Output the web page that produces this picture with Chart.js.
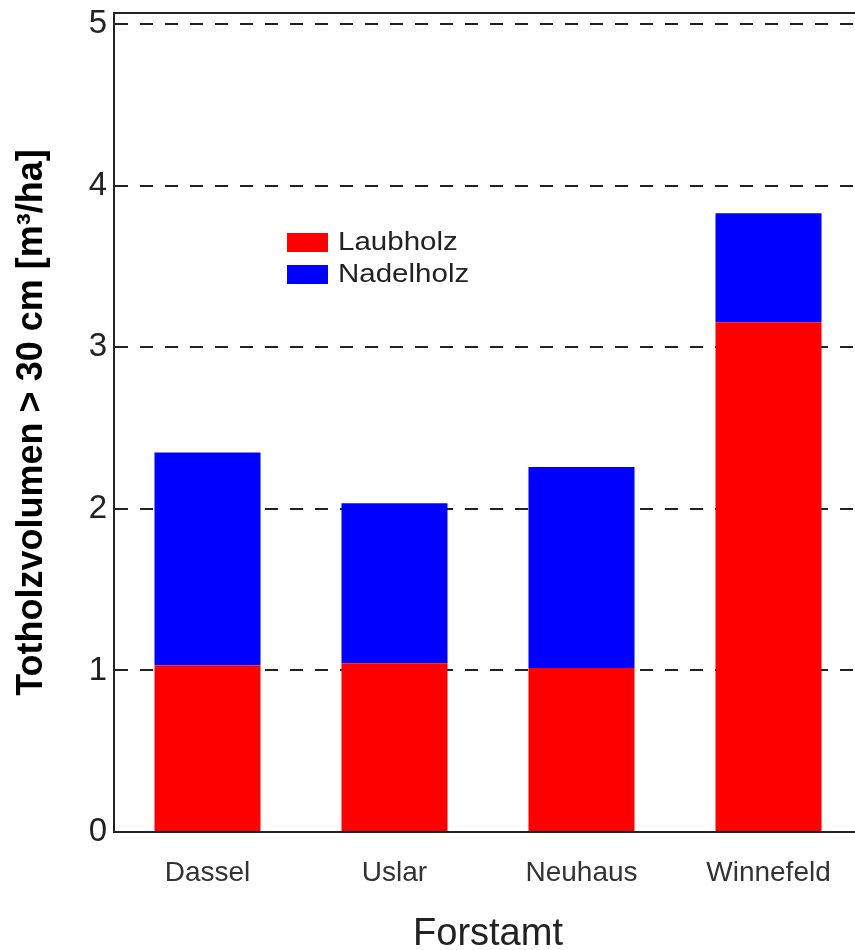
<!DOCTYPE html>
<html>
<head>
<meta charset="utf-8">
<script src="https://cdn.jsdelivr.net/npm/chart.js@4"></script>
<style>
  html, body { margin: 0; padding: 0; background: #fff; overflow: hidden; }
  #wrap { position: absolute; left: 0; top: 0; width: 870px; height: 950px; }
</style>
</head>
<body>
<div id="wrap"><canvas id="totholzChart"></canvas></div>
<script>
    'use strict';

    // Forstämter (x categories)
    const forstaemter = ['Dassel', 'Uslar', 'Neuhaus', 'Winnefeld'];
    // Totholzvolumen > 30 cm, m³/ha
    const laubholz = [1.03, 1.045, 1.015, 3.155];
    const nadelholz = [1.32, 0.99, 1.245, 0.675];
    const seriesNames = ['Laubholz', 'Nadelholz'];
    const yTicks = [0, 1, 2, 3, 4, 5];

    const ink = '#222';
    const fontFam = 'Arial, "Liberation Sans", sans-serif';

    // legend drawn inside the plot area, like the original figure
    const innerLegend = {
        id: 'innerLegend',
        afterDatasetsDraw(chart) {
            const { ctx, chartArea } = chart;
            const x0 = chartArea.left + 173;
            let y0 = chartArea.top + 220;
            ctx.save();
            ctx.font = '25px ' + fontFam;
            ctx.textBaseline = 'middle';
            ctx.textAlign = 'left';
            chart.data.datasets.forEach(ds => {
                ctx.fillStyle = ds.backgroundColor;
                ctx.fillRect(x0, y0, 41, 19);
                ctx.fillStyle = ink;
                // original text looks a bit wider than plain Arial
                ctx.save();
                ctx.translate(x0 + 51, y0 + 10);
                ctx.scale(1.18, 1);
                ctx.fillText(ds.label, 0, 0);
                ctx.restore();
                y0 += 32;
            });
            ctx.restore();
        }
    };

    const ctx = document.getElementById('totholzChart').getContext('2d');

    new Chart(ctx, {
        type: 'bar',
        data: {
            labels: forstaemter,
            datasets: [
                {
                    label: seriesNames[0],
                    data: laubholz,
                    backgroundColor: '#ff0000',
                    borderWidth: 0,
                    barPercentage: 0.567,
                    categoryPercentage: 1
                },
                {
                    label: seriesNames[1],
                    data: nadelholz,
                    backgroundColor: '#0000ff',
                    borderWidth: 0,
                    barPercentage: 0.567,
                    categoryPercentage: 1
                }
            ]
        },
        options: {
            responsive: true,
            maintainAspectRatio: false,
            devicePixelRatio: 1,
            animation: false,
            layout: { padding: { top: 13, right: 8, left: 0, bottom: 0 } },
            plugins: {
                legend: { display: false },
                tooltip: { enabled: false }
            },
            scales: {
                x: {
                    stacked: true,
                    grid: { display: false, drawTicks: false },
                    border: { display: true, color: ink, width: 2 },
                    ticks: {
                        padding: 24,
                        color: '#333',
                        font: { family: fontFam, size: 28 }
                    },
                    title: {
                        display: true,
                        text: 'Forstamt',
                        color: ink,
                        padding: { top: 0, bottom: 0 },
                        font: { family: fontFam, size: 38, lineHeight: 0.82 }
                    },
                    afterFit(scale) {
                        scale.height = 118;
                        scale.paddingLeft = 0;
                        scale.paddingRight = 0;
                    }
                },
                xTop: {
                    position: 'top',
                    grid: { display: false, drawTicks: false },
                    border: { display: true, color: ink, width: 2 },
                    ticks: { display: false },
                    afterFit(scale) {
                        scale.height = 0;
                    }
                },
                y: {
                    stacked: true,
                    min: 0,
                    max: 5.07,
                    grid: {
                        drawTicks: false,
                        color: c => (c.tick && c.tick.value === 0 ? 'rgba(0,0,0,0)' : ink),
                        lineWidth: 2
                    },
                    border: { display: true, color: ink, width: 2, dash: [13, 12] },
                    ticks: {
                        stepSize: 1,
                        padding: 7,
                        color: ink,
                        font: { family: fontFam, size: 33 }
                    },
                    afterBuildTicks(scale) {
                        scale.ticks = yTicks.map(v => ({ value: v }));
                    },
                    title: {
                        display: true,
                        text: 'Totholzvolumen > 30 cm [m³/ha]',
                        color: '#000',
                        padding: { top: 14, bottom: 0 },
                        font: { family: fontFam, size: 36, weight: 'bold', lineHeight: 1 }
                    },
                    afterFit(scale) {
                        scale.width = 114;
                        scale.paddingTop = 0;
                        scale.paddingBottom = 0;
                    }
                }
            }
        },
        plugins: [innerLegend]
    });
</script>
</body>
</html>
